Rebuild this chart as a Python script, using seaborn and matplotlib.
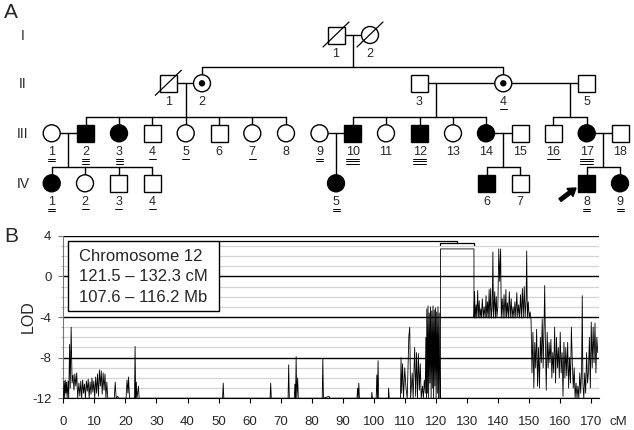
import matplotlib
matplotlib.use("Agg")
import matplotlib.pyplot as plt
import seaborn as sns
from matplotlib.patches import Rectangle, Circle, FancyArrow
from matplotlib.ticker import MultipleLocator

sns.set_style("white")
plt.rcParams['font.family'] = ['Liberation Sans', 'DejaVu Sans']
plt.rcParams['axes.unicode_minus'] = False

# ---------------- pedigree (panel A) ----------------
gen_y = {1: 35, 2: 83.3, 3: 133.3, 4: 183.3}
gen_names = ['I', 'II', 'III', 'IV']

ped_gen = [1, 1,
           2, 2, 2, 2, 2,
           3, 3, 3, 3, 3, 3, 3, 3, 3, 3, 3, 3, 3, 3, 3, 3, 3, 3,
           4, 4, 4, 4, 4, 4, 4, 4, 4]
ped_num = [1, 2,
           1, 2, 3, 4, 5,
           1, 2, 3, 4, 5, 6, 7, 8, 9, 10, 11, 12, 13, 14, 15, 16, 17, 18,
           1, 2, 3, 4, 5, 6, 7, 8, 9]
ped_x = [336, 370,
         168.3, 202, 419.5, 503.3, 586.7,
         51.7, 85.7, 119, 152.3, 185.7, 219, 252.3, 286, 319.5, 352.7, 386,
         419.7, 453, 486, 520, 553.3, 586.7, 620,
         51.7, 85, 118.7, 152.3, 336, 486.7, 520, 586.7, 620]
ped_sex = ['M', 'F',
           'M', 'F', 'M', 'F', 'M',
           'F', 'M', 'F', 'M', 'F', 'M', 'F', 'F', 'F', 'M', 'F', 'M', 'F', 'F', 'M', 'M', 'F', 'M',
           'F', 'F', 'M', 'M', 'F', 'M', 'M', 'M', 'F']
ped_affected = [0, 0,
                0, 0, 0, 0, 0,
                0, 1, 1, 0, 0, 0, 0, 0, 0, 1, 0, 1, 0, 1, 0, 0, 1, 0,
                1, 0, 0, 0, 1, 1, 0, 1, 1]
ped_carrier = [0, 0,
               0, 1, 0, 1, 0,
               0, 0, 0, 0, 0, 0, 0, 0, 0, 0, 0, 0, 0, 0, 0, 0, 0, 0,
               0, 0, 0, 0, 0, 0, 0, 0, 0]
ped_deceased = [1, 1,
                1, 0, 0, 0, 0,
                0, 0, 0, 0, 0, 0, 0, 0, 0, 0, 0, 0, 0, 0, 0, 0, 0, 0,
                0, 0, 0, 0, 0, 0, 0, 0, 0]
ped_underline = [0, 0,
                 0, 0, 0, 1, 0,
                 2, 3, 3, 1, 1, 0, 1, 0, 2, 3, 0, 3, 0, 0, 0, 1, 3, 0,
                 2, 1, 1, 1, 2, 0, 0, 2, 2]

# couples: generation, left x, right x
couple_gen = [1, 2, 2, 2, 3, 3, 3, 3]
couple_left = [336, 168.3, 419.5, 503.3, 51.7, 319.5, 486, 586.7]
couple_right = [370, 202, 503.3, 586.7, 85.7, 352.7, 520, 620]

# sibships: parent generation, drop x, children x
fam_gen = [1, 2, 2, 2, 3, 3, 3, 3]
fam_drop = [352.7, 185.7, 436, 570, 68.3, 336, 502.7, 603.3]
fam_children = [[202, 503.3],
                [85.7, 119, 152.3, 185.7, 219, 252.3, 286],
                [352.7, 386, 419.7, 453, 486],
                [553.3, 586.7],
                [51.7, 85, 118.7, 152.3],
                [336],
                [486.7, 520],
                [586.7, 620]]

# ---------------- LOD trace (panel B) ----------------
lod_cm = [0.0, 0.2, 0.4, 0.6, 0.8, 1.0, 1.2, 1.5, 1.7, 2.0, 2.2, 2.5, 2.8, 3.1, 3.4, 3.7, 4.0, 4.3, 4.6,
          5.0, 5.3, 5.6, 5.9, 6.2, 6.5, 6.8, 7.1, 7.4, 7.7, 8.0, 8.3, 8.6, 8.9, 9.2, 9.5, 9.8, 10.1,
          10.4, 10.7, 11.0, 11.3, 11.6, 11.9, 12.2, 12.5, 12.8, 13.1, 13.4, 13.7, 14.0, 14.3,
          16.4, 16.7, 17.0, 17.5, 17.8, 20.2, 20.5, 20.8, 21.0, 21.3, 22.9, 23.1, 23.3, 23.5, 23.7,
          24.2, 24.4,
          51.3, 51.5, 51.7, 66.6, 66.8, 67.0, 72.4, 72.6, 72.8, 74.4, 74.6, 74.8, 75.0, 75.2, 75.5,
          75.7, 83.4, 83.6, 83.8, 85.6, 85.8, 94.6, 94.8, 95.0, 95.2, 95.4, 99.3, 99.4, 99.6,
          100.8, 101.0, 101.2, 101.4, 101.6, 104.7, 104.8, 105.0,
          108.6, 108.8, 109.0, 109.3, 109.6, 110.0, 110.4, 110.8, 111.3, 111.6, 111.9, 112.4, 112.7,
          113.2, 113.5, 113.8, 114.1, 114.4, 114.7, 115.0, 115.3, 115.7, 116.0, 116.3, 116.6,
          116.8, 117.0, 117.1, 117.3, 117.5, 117.7, 117.9, 118.1, 118.3, 118.5, 118.7, 118.9,
          119.1, 119.3, 119.5, 119.7, 119.9, 120.1, 120.3, 120.5, 120.7, 120.9, 121.1, 121.3,
          121.5, 121.5, 132.3, 132.3,
          132.5, 132.7, 133.0, 133.2, 133.5, 133.7, 134.0, 134.2, 134.5, 134.7, 135.0, 135.3,
          135.6, 135.9, 136.2, 136.4, 136.7, 136.9, 137.2, 137.4, 137.7, 137.9, 138.2, 138.4,
          138.6, 139.0, 139.2, 139.5, 139.7, 140.0, 140.3, 140.6, 140.9, 141.1, 141.4, 141.7,
          142.0, 142.3, 142.6, 142.8, 143.1, 143.4, 143.7, 144.0, 144.3, 144.6, 144.9, 145.2,
          145.5, 145.8, 146.1, 146.4, 146.7, 147.0, 147.3, 147.6, 147.9, 148.2, 148.5, 148.8,
          149.1, 149.3, 149.5, 149.8, 150.1, 150.4, 150.7,
          151.0, 151.3, 151.6, 151.9, 152.2, 152.5, 152.8, 153.1, 153.4, 153.7, 154.0, 154.3,
          154.6, 154.9, 155.1, 155.3, 155.6, 155.9, 156.2, 156.5, 156.8, 157.1, 157.4, 157.7,
          158.0, 158.3, 158.6, 158.9, 159.2, 159.5, 159.8, 160.1, 160.4, 160.7, 161.0, 161.3,
          161.6, 161.9, 162.2, 162.5, 162.8, 163.1, 163.4, 163.7, 164.0, 164.3, 164.6, 164.9,
          165.2, 165.5, 165.8, 166.1, 166.4, 166.7, 167.0, 167.2, 167.4, 167.7, 168.0, 168.3,
          168.6, 168.9, 169.2, 169.5, 169.8, 170.1, 170.4, 170.7, 171.0, 171.3, 171.6, 171.9, 172.2]
lod_score = [-12, -10.3, -12, -10.2, -11.5, -10.4, -12, -10.3, -12, -6.7, -11, -5.0, -10.5, -9.7,
             -11.2, -9.6, -10.8, -9.5, -12,
             -10.5, -11.8, -10.3, -12, -10.2, -11.5, -10.6, -12, -10.3, -11.3, -10.1, -12, -10.4,
             -11.6, -10.0, -11.4, -10.3, -12,
             -9.9, -11.5, -9.6, -11.8, -9.2, -10.8, -9.3, -11.6, -9.5, -11.2, -9.6, -12, -10.4, -12,
             -12, -10.4, -12, -11.8, -12, -12, -10.2, -11.5, -9.9, -12, -12, -6.9, -12, -10.4, -12,
             -10.8, -12,
             -12, -10.5, -12, -12, -10.5, -12, -12, -8.7, -12, -12, -10.6, -12, -7.9, -12, -10.0,
             -12, -12, -8.1, -12, -11.8, -12, -12, -11.0, -12, -10.5, -12, -12, -11.4, -12,
             -12, -9.7, -12, -8.3, -12, -12, -11.0, -12,
             -12, -8.0, -11.5, -8.6, -12, -9.0, -11.0, -12, -6.0, -5.0, -12, -9.5, -12,
             -7.0, -11.8, -7.5, -12, -7.6, -11.2, -8.6, -12, -10.8, -12, -10.2, -11.5,
             -6.0, -12, -3.2, -11.5, -2.9, -12, -3.6, -10.5, -3.0, -12, -3.4, -11,
             -2.9, -12, -3.3, -10.8, -3.1, -12, -3.5, -11.5, -3.0, -12, -3.6, -12,
             -12, 2.7, 2.7, -4.1,
             -1.5, -4.1, -2.8, -4.1, -1.4, -4.0, -2.4, -4.1, -3.2, -4.1, -2.2, -4.1,
             -3.0, -4.1, -1.9, -4.0, -2.5, -4.1, -1.3, -4.1, -1.2, -4.1, -3.0, 2.4,
             -4.1, -1.5, -4.1, -2.0, -4.0, -3.0, 2.7, -0.5, 2.7, -4.1, -2.2, -4.1,
             -1.8, -4.1, -1.3, -4.0, -2.6, -4.1, -1.5, -4.1, -2.2, -4.1, -3.0, -4.1,
             -2.5, -4.1, -1.6, -4.0, -2.8, -4.1, -1.8, -4.1, -1.2, -4.1, -1.0, -4.0,
             -2.3, 2.5, -4.1, -2.5, -4.1, -3.5, -4.3,
             -9.5, -5.5, -11.0, -6.5, -9.0, -5.2, -10.8, -7.0, -11.0, -6.0, -8.5, -4.2,
             -9.0, -4.5, -0.9, -6.0, -11.2, -5.5, -9.0, -6.5, -8.5, -6.2, -10.0, -7.5,
             -9.5, -5.0, -10.5, -6.0, -9.0, -7.0, -10.0, -5.5, -9.5, -7.5, -11.8, -6.5,
             -10.0, -7.0, -9.8, -6.5, -11.0, -8.0, -10.5, -5.0, -8.5, -11.0, -9.0, -12,
             -10.5, -12, -10.8, -12, -9.5, -11.5, -9.0, -1.9, -10.5, -12, -9.5, -11.5,
             -7.5, -10.5, -9.4, -6.0, -11.0, -4.5, -9.0, -5.0, -8.5, -4.6, -9.5, -6.0, -7.5]

x_ticks = list(range(0, 171, 10))
y_ticks = [4, 0, -4, -8, -12]
legend_lines = ['Chromosome 12', '121.5 \u2013 132.3 cM', '107.6 \u2013 116.2 Mb']

fig = plt.figure(figsize=(6.34, 4.30), dpi=100)

# panel A drawn in pixel units
axA = fig.add_axes([0, 0, 1, 1])
axA.set_xlim(0, 634)
axA.set_ylim(430, 0)
axA.axis('off')

lw = 1.0
for g, xl, xr in zip(couple_gen, couple_left, couple_right):
    axA.plot([xl, xr], [gen_y[g], gen_y[g]], color='black', lw=lw, zorder=1)

for g, xd, kids in zip(fam_gen, fam_drop, fam_children):
    sib_y = gen_y[g + 1] - 16.7
    axA.plot([xd, xd], [gen_y[g], sib_y], color='black', lw=lw, zorder=1)
    axA.plot([min(kids + [xd]), max(kids + [xd])], [sib_y, sib_y], color='black', lw=lw, zorder=1)
    for k in kids:
        axA.plot([k, k], [sib_y, gen_y[g + 1]], color='black', lw=lw, zorder=1)

for g, n, x, s, a, c, d, u in zip(ped_gen, ped_num, ped_x, ped_sex, ped_affected,
                                  ped_carrier, ped_deceased, ped_underline):
    y = gen_y[g]
    fc = 'black' if a else 'white'
    if s == 'M':
        axA.add_patch(Rectangle((x - 8.5, y - 8.5), 17, 17, fc=fc, ec='black', lw=lw, zorder=3))
    else:
        axA.add_patch(Circle((x, y), 8.5, fc=fc, ec='black', lw=lw, zorder=3))
    if c:
        axA.add_patch(Circle((x, y), 3.2, fc='black', ec='none', zorder=4))
    if d:
        axA.plot([x - 13, x + 13], [y + 12, y - 13], color='black', lw=0.9, zorder=5)
    axA.text(x, y + 19, str(n), ha='center', va='center', fontsize=9)
    half = 3.5 if n < 10 else 6.5
    for k in range(u):
        uy = y + 25.5 + 2.4 * k
        axA.plot([x - half, x + half], [uy, uy], color='black', lw=0.7)

for name, g in zip(gen_names, [1, 2, 3, 4]):
    axA.text(23, gen_y[g] + 0.5, name, ha='center', va='center', fontsize=10)

# proband arrow at IV-8
axA.add_patch(FancyArrow(560, 200, 16, -12, width=3.6, head_width=10, head_length=7.5,
                         length_includes_head=True, color='black', zorder=5))

fig.text(11 / 634, 1 - 13 / 430, 'A', fontsize=15, ha='center', va='center')
fig.text(11.7 / 634, 1 - 237 / 430, 'B', fontsize=15, ha='center', va='center')

# panel B
axB = fig.add_axes([63.4 / 634, 1 - 398.3 / 430, (598.7 - 63.4) / 634, (398.3 - 235.7) / 430])
sns.lineplot(x=lod_cm, y=lod_score, ax=axB, color='black', lw=0.6, sort=False,
             estimator=None, zorder=4)
axB.set_xlim(0, 172.5)
axB.set_ylim(-12, 4)
axB.set_xticks(x_ticks)
axB.set_yticks(y_ticks)
axB.yaxis.set_minor_locator(MultipleLocator(1))
axB.yaxis.grid(True, which='minor', color='#d4d4d4', lw=0.9, zorder=0)
axB.yaxis.grid(True, which='major', color='black', lw=1.0, zorder=1)
axB.set_axisbelow(True)
axB.set_xlabel('')
axB.set_ylabel('')
for side in ['top', 'right']:
    axB.spines[side].set_visible(False)
axB.spines['left'].set_color('#777777')
axB.spines['bottom'].set_color('black')
axB.tick_params(axis='x', direction='out', length=3.6, width=0.8, pad=9, labelsize=9.5,
                bottom=True, color='black')
axB.tick_params(axis='y', which='major', direction='out', length=3.6, width=0.8, pad=5,
                labelsize=9.5, left=True, color='#777777')
axB.tick_params(axis='y', which='minor', direction='out', length=1.5, width=0.6, left=True,
                color='#999999')

# legend box and bracket
axB.add_patch(Rectangle((1.5, -3.42), 48.7, 6.92, fc='white', ec='black', lw=1.0, zorder=5))
for ty, txt in zip([1.93, -0.04, -2.1], legend_lines):
    axB.text(5.0, ty, txt, ha='left', va='center', fontsize=12, zorder=6)
axB.plot([50.2, 126.9, 126.9], [3.48, 3.48, 3.28], color='black', lw=0.9, zorder=5,
         clip_on=False)
axB.plot([121.5, 121.5, 132.3, 132.3], [3.05, 3.28, 3.28, 3.05], color='black', lw=0.9,
         zorder=5, clip_on=False)

fig.text(28 / 634, 1 - 316.7 / 430, 'LOD', rotation=90, fontsize=11.5, ha='center',
         va='center')
fig.text(618 / 634, 1 - 421.7 / 430, 'cM', fontsize=9.5, ha='center', va='center')

fig.savefig('out.png', dpi=100)
